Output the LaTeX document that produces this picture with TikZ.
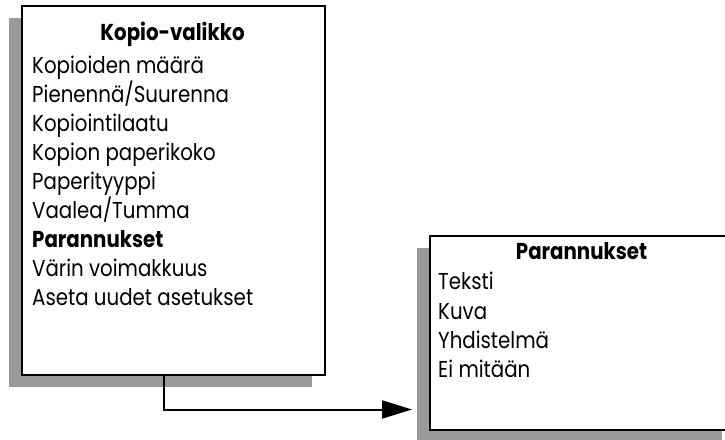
\documentclass[tikz,border=0pt]{standalone}
\usepackage{fontspec}
\setmainfont{Poppins}[FakeStretch=0.86]
\usetikzlibrary{arrows.meta,shadows}
\definecolor{shadowgray}{gray}{0.6}

\begin{document}
\begin{tikzpicture}[x=1bp,y=-1bp,
		menubox/.style={draw,fill=white,line width=2.2bp,anchor=north west,inner sep=0pt,
			drop shadow={shadow xshift=-13bp,shadow yshift=-12bp,fill=shadowgray,opacity=1}},
		item/.style={anchor=base west,inner sep=0pt,font=\fontsize{23bp}{27bp}\selectfont},
		heading/.style={anchor=base,inner sep=0pt,font=\fontsize{23bp}{27bp}\selectfont\bfseries}]
	\useasboundingbox (0,0) rectangle (725,440);
	% copy menu
	\node[menubox,minimum width=303bp,minimum height=369bp] (kopio) at (21,5) {};
	\node[heading] (kopiohead) at (172.5,40.7) {Kopio-valikko};
	\foreach \txt [count=\i from 0] in {Kopioiden määrä,Pienennä/Suurenna,Kopiointilaatu,Kopion paperikoko,Paperityyppi,Vaalea/Tumma,\textbf{Parannukset},Värin voimakkuus,Aseta uudet asetukset}
		\node[item] (kopio\i) at (32,74+29*\i) {\txt};
	% enhancements submenu
	\node[menubox,minimum width=305bp,minimum height=194bp] (paran) at (429,235) {};
	\node[heading] (paranhead) at (581.5,260) {Parannukset};
	\foreach \txt [count=\i from 0] in {Teksti,Kuva,Yhdistelmä,Ei mitään}
		\node[item] (paran\i) at (438,290+29.3*\i) {\txt};
	\coordinate (tip) at (412,409.5);
	\draw[line width=2bp,-{Triangle[length=30bp,width=18bp]}] ([xshift=-10bp]kopio.south) |- (tip);
\end{tikzpicture}
\end{document}
